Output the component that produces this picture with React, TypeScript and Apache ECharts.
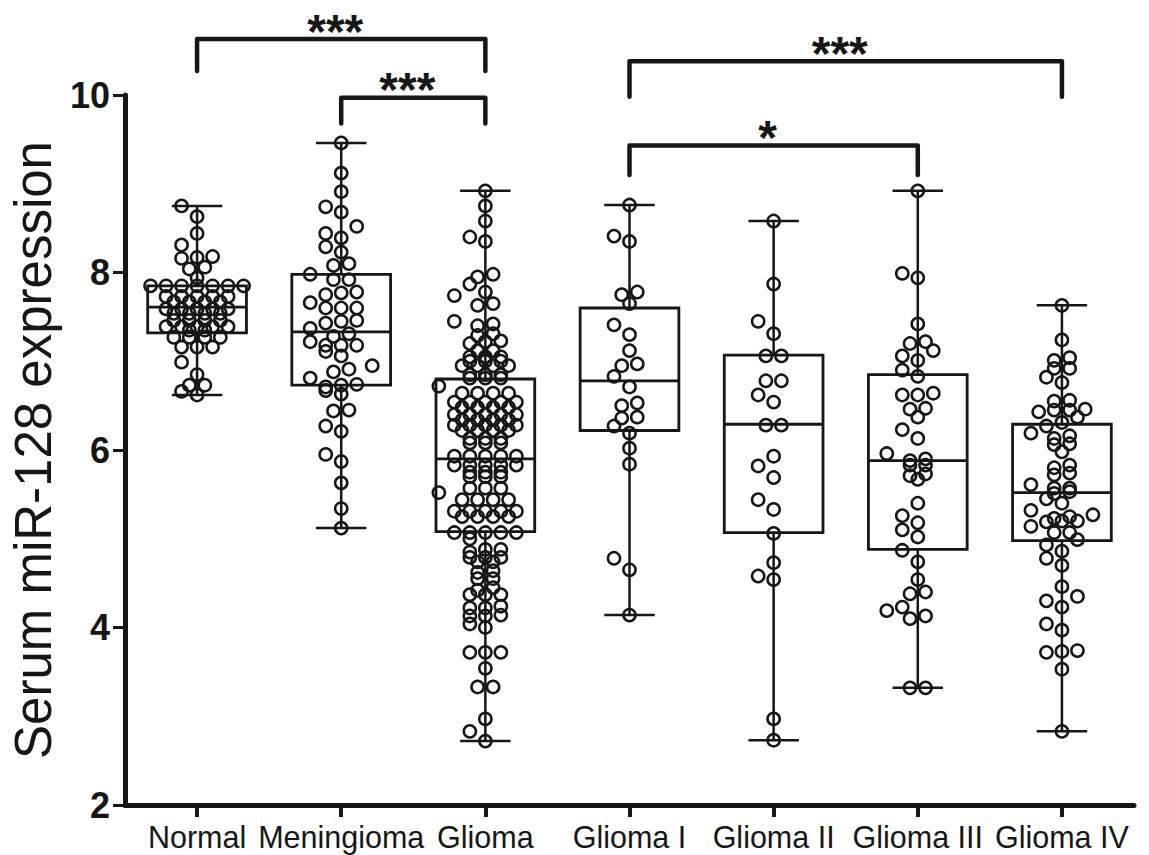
import React, { useEffect, useRef } from 'react';
import * as echarts from 'echarts';

const categories = ['Normal', 'Meningioma', 'Glioma', 'Glioma I', 'Glioma II', 'Glioma III', 'Glioma IV'];
const yAxisTitle = 'Serum miR-128 expression';

const normalValues = [
  8.75, 8.63, 8.44, 8.31, 8.18, 8.17, 8.16, 8.06, 8.04, 7.94,
  7.85, 7.85, 7.85, 7.85, 7.85, 7.85, 7.85,
  7.73, 7.73, 7.73, 7.73, 7.73,
  7.67, 7.67, 7.67, 7.67,
  7.59, 7.59, 7.59, 7.59, 7.59,
  7.54, 7.54, 7.54, 7.54,
  7.46, 7.46, 7.46, 7.46,
  7.39, 7.39, 7.39, 7.39, 7.39,
  7.35, 7.35,
  7.27, 7.27, 7.27, 7.27,
  7.16, 7.16, 7.16,
  6.99, 6.85, 6.73, 6.73, 6.66, 6.62,
];

const meningiomaValues = [
  9.46, 9.12, 8.91, 8.74, 8.68, 8.52, 8.44, 8.39, 8.29, 8.23, 8.1, 8.08, 7.98, 7.92, 7.92,
  7.78, 7.77, 7.75, 7.66, 7.6, 7.6, 7.6, 7.46, 7.45, 7.43, 7.37, 7.31, 7.28, 7.22,
  7.18, 7.18, 7.18, 7.11, 7.06, 6.95, 6.91, 6.88, 6.81, 6.74, 6.73, 6.71, 6.67, 6.63,
  6.45, 6.44, 6.27, 6.21, 5.95, 5.87, 5.63, 5.34, 5.12,
];

const gliomaValues = [
  8.92, 8.75, 8.58, 8.4, 8.35, 7.98, 7.95, 7.87, 7.78, 7.74, 7.65, 7.63, 7.45, 7.42, 7.4,
  7.31, 7.29, 7.23, 7.22, 7.2,
  7.12, 7.12,
  7.05, 7.05, 7.05,
  7.0, 7.0, 7.0,
  6.95, 6.95, 6.95, 6.95,
  6.85, 6.85, 6.85,
  6.81, 6.81, 6.81,
  6.72,
  6.64, 6.64, 6.64, 6.64,
  6.54, 6.54, 6.54, 6.54, 6.54,
  6.48, 6.48, 6.48, 6.48,
  6.4, 6.4, 6.4, 6.4, 6.4,
  6.34, 6.34, 6.34, 6.34,
  6.28, 6.28, 6.28, 6.28, 6.28,
  6.22, 6.22, 6.22, 6.22,
  6.13, 6.13, 6.13,
  6.08, 6.08, 6.08,
  5.93, 5.93, 5.93, 5.93, 5.93,
  5.83, 5.83, 5.83, 5.83, 5.83,
  5.75, 5.75, 5.75,
  5.7, 5.7, 5.7,
  5.57, 5.57, 5.57,
  5.52,
  5.44, 5.44, 5.44, 5.44,
  5.31, 5.31, 5.31, 5.31, 5.31,
  5.25, 5.25, 5.25, 5.25,
  5.07, 5.07, 5.07, 5.07, 5.07,
  5.0,
  4.88, 4.88, 4.85,
  4.79, 4.79, 4.79,
  4.74, 4.74,
  4.64, 4.62,
  4.55, 4.55,
  4.45, 4.42,
  4.37, 4.37, 4.37,
  4.24, 4.22, 4.22,
  4.14, 4.13, 4.13,
  4.04, 4.0,
  3.72, 3.72, 3.72,
  3.54,
  3.33, 3.33,
  2.97, 2.83, 2.72,
];

const gliomaIValues = [
  8.76, 8.41, 8.35, 7.78, 7.75, 7.65, 7.41, 7.3, 7.12, 6.97, 6.95, 6.83, 6.71, 6.53, 6.5,
  6.37, 6.36, 6.27, 6.19, 6.02, 5.84, 4.78, 4.65, 4.14,
];

const gliomaIIValues = [
  8.58, 7.87, 7.45, 7.31, 7.06, 7.06, 6.78, 6.78, 6.62, 6.54, 6.28, 6.28, 5.93, 5.82, 5.69,
  5.44, 5.33, 5.06, 4.73, 4.58, 4.54, 2.97, 2.73,
];

const gliomaIIIValues = [
  8.92, 7.99, 7.94, 7.42, 7.22, 7.2, 7.12, 7.06, 7.01, 6.9, 6.83, 6.64, 6.62, 6.62, 6.47,
  6.46, 6.37, 6.23, 6.13, 5.96, 5.9, 5.88, 5.83, 5.83, 5.73, 5.71, 5.67, 5.4, 5.26, 5.18,
  5.1, 5.02, 4.87, 4.74, 4.54, 4.4, 4.38, 4.23, 4.19, 4.13, 4.1, 3.32, 3.32,
];

const gliomaIVValues = [
  7.63, 7.24, 7.04, 7.01, 6.92, 6.92, 6.82, 6.76, 6.56, 6.55, 6.46, 6.45, 6.45, 6.43, 6.37,
  6.31, 6.27, 6.19, 6.16, 6.13, 6.07, 6.06, 5.98, 5.83, 5.8, 5.74, 5.72, 5.61, 5.57, 5.57,
  5.53, 5.51, 5.45, 5.4, 5.32, 5.27, 5.25, 5.23, 5.2, 5.2, 5.19, 5.14, 5.07, 5.07, 4.99,
  4.93, 4.86, 4.78, 4.7, 4.46, 4.35, 4.3, 4.23, 4.04, 3.97, 3.74, 3.73, 3.72, 3.53, 2.83,
];

const groupValues = [
  normalValues, meningiomaValues, gliomaValues, gliomaIValues,
  gliomaIIValues, gliomaIIIValues, gliomaIVValues,
];

// [min, Q1, median, Q3, max]
const boxMin = [6.62, 5.12, 2.72, 4.14, 2.73, 3.32, 2.83];
const boxQ1 = [7.32, 6.73, 5.08, 6.22, 5.07, 4.88, 4.98];
const boxMedian = [7.61, 7.33, 5.9, 6.78, 6.29, 5.88, 5.52];
const boxQ3 = [7.85, 7.98, 6.8, 7.6, 7.07, 6.85, 6.29];
const boxMax = [8.75, 9.46, 8.92, 8.76, 8.58, 8.92, 7.63];

const bracketFrom = [0, 1, 3, 3];
const bracketTo = [2, 2, 6, 5];
const bracketLevel = [10.63, 9.97, 10.38, 9.43];
const bracketDrop = [10.27, 9.68, 9.98, 9.1];
const bracketStars = ['***', '***', '***', '*'];

const INK = '#161616';
const FONT = '"Liberation Sans", Arial, Helvetica, sans-serif';
const GRID = { left: 124, top: 95, width: 1010, height: 710 };
const Y_MIN = 2;
const Y_MAX = 10;

// beeswarm-like layout (GraphPad style rows), offsets in pixels
function swarmOffsets(values: number[]): number[] {
  const pxPerUnit = GRID.height / (Y_MAX - Y_MIN);
  const COL = 15.5;
  const ROW_TOL = 3;
  const MIN_DIST = 12.5;
  const idx = values.map((_, i) => i).sort((a, b) => values[a] - values[b]);
  const off = new Array(values.length).fill(0);
  const placed: { x: number; y: number }[] = [];
  let i = 0;
  while (i < idx.length) {
    const start = values[idx[i]];
    const row: number[] = [];
    while (i < idx.length && (values[idx[i]] - start) * pxPerUnit <= ROW_TOL) {
      row.push(idx[i]);
      i++;
    }
    if (row.length === 1) {
      const y = values[row[0]] * pxPerUnit;
      const cands = [0, -COL, COL, -2 * COL, 2 * COL, -3 * COL, 3 * COL];
      let chosen = 0;
      for (const c of cands) {
        if (placed.every((p) => Math.hypot(p.x - c, p.y - y) >= MIN_DIST)) {
          chosen = c;
          break;
        }
      }
      off[row[0]] = chosen;
      placed.push({ x: chosen, y });
    } else {
      row.forEach((k, j) => {
        const x = (j - (row.length - 1) / 2) * COL;
        off[k] = x;
        placed.push({ x, y: values[k] * pxPerUnit });
      });
    }
  }
  return off;
}

export default function App() {
  const ref = useRef<HTMLDivElement>(null);

  useEffect(() => {
    if (!ref.current) return;
    const chart = echarts.init(ref.current, undefined, { renderer: 'svg' });

    const boxData = categories.map((_, i) => [i, boxMin[i], boxQ1[i], boxMedian[i], boxQ3[i], boxMax[i]]);
    const pointData: number[][] = [];
    groupValues.forEach((vals, gi) => {
      const offs = swarmOffsets(vals);
      vals.forEach((v, k) => pointData.push([gi, v, offs[k]]));
    });
    const bracketData = bracketFrom.map((f, i) => [f, bracketTo[i], bracketLevel[i], bracketDrop[i]]);

    const option: any = {
      animation: false,
      backgroundColor: '#ffffff',
      grid: { ...GRID, containLabel: false },
      xAxis: {
        type: 'category',
        data: categories,
        boundaryGap: true,
        axisLine: { show: true, lineStyle: { color: INK, width: 5 } },
        axisTick: { show: true, alignWithLabel: true, interval: 0, length: 12, lineStyle: { color: INK, width: 4 } },
        axisLabel: { color: INK, fontSize: 30.5, fontFamily: FONT, margin: 16, interval: 0, hideOverlap: false },
        splitLine: { show: false },
      },
      yAxis: {
        type: 'value',
        min: Y_MIN,
        max: Y_MAX,
        interval: 2,
        name: yAxisTitle,
        nameLocation: 'middle',
        nameGap: 66,
        nameRotate: 90,
        nameTextStyle: { color: INK, fontSize: 51, fontFamily: FONT },
        axisLine: { show: true, lineStyle: { color: INK, width: 5 } },
        axisTick: { show: true, length: 12, lineStyle: { color: INK, width: 3 } },
        axisLabel: { color: INK, fontSize: 36, fontWeight: 'bold', fontFamily: FONT, margin: 15 },
        splitLine: { show: false },
      },
      series: [
        {
          type: 'custom',
          name: 'box',
          data: boxData,
          encode: { x: 0, y: [1, 2, 3, 4, 5] },
          clip: false,
          renderItem: (params: any, api: any) => {
            const x = api.value(0);
            const pMin = api.coord([x, api.value(1)]);
            const pQ1 = api.coord([x, api.value(2)]);
            const pMed = api.coord([x, api.value(3)]);
            const pQ3 = api.coord([x, api.value(4)]);
            const pMax = api.coord([x, api.value(5)]);
            const band = api.size([1, 0])[0];
            const bw = band * 0.685;
            const cw = band * 0.35;
            const cx = pMed[0];
            const boxStyle = { stroke: INK, lineWidth: 2.8, fill: null };
            const wStyle = { stroke: INK, lineWidth: 2.5, fill: null };
            return {
              type: 'group',
              children: [
                { type: 'line', shape: { x1: cx, y1: pQ3[1], x2: cx, y2: pMax[1] }, style: wStyle },
                { type: 'line', shape: { x1: cx, y1: pQ1[1], x2: cx, y2: pMin[1] }, style: wStyle },
                { type: 'line', shape: { x1: cx - cw / 2, y1: pMax[1], x2: cx + cw / 2, y2: pMax[1] }, style: wStyle },
                { type: 'line', shape: { x1: cx - cw / 2, y1: pMin[1], x2: cx + cw / 2, y2: pMin[1] }, style: wStyle },
                { type: 'rect', shape: { x: cx - bw / 2, y: pQ3[1], width: bw, height: pQ1[1] - pQ3[1] }, style: boxStyle },
                { type: 'line', shape: { x1: cx - bw / 2, y1: pMed[1], x2: cx + bw / 2, y2: pMed[1] }, style: boxStyle },
              ],
            };
          },
        },
        {
          type: 'custom',
          name: 'points',
          data: pointData,
          encode: { x: 0, y: 1 },
          clip: false,
          renderItem: (params: any, api: any) => {
            const p = api.coord([api.value(0), api.value(1)]);
            return {
              type: 'circle',
              shape: { cx: p[0] + api.value(2), cy: p[1], r: 6.1 },
              style: { fill: null, stroke: INK, lineWidth: 2.5 },
            };
          },
        },
        {
          type: 'custom',
          name: 'brackets',
          data: bracketData,
          encode: { x: [0, 1], y: [2, 3] },
          clip: false,
          renderItem: (params: any, api: any) => {
            const x0 = api.value(0);
            const x1 = api.value(1);
            const yl = api.value(2);
            const yd = api.value(3);
            const a = api.coord([x0, yd]);
            const b = api.coord([x0, yl]);
            const c = api.coord([x1, yl]);
            const d = api.coord([x1, yd]);
            return {
              type: 'group',
              children: [
                {
                  type: 'polyline',
                  shape: { points: [a, b, c, d] },
                  style: { stroke: INK, lineWidth: 4.5, fill: null, lineCap: 'round', lineJoin: 'round' },
                },
                {
                  type: 'text',
                  x: (b[0] + c[0]) / 2 - 6,
                  y: b[1] - 8,
                  style: {
                    text: bracketStars[params.dataIndex],
                    fontSize: 48,
                    fontWeight: 'bold',
                    fontFamily: FONT,
                    fill: INK,
                    align: 'center',
                    verticalAlign: 'middle',
                  },
                },
              ],
            };
          },
        },
      ],
    };

    chart.setOption(option);
    return () => chart.dispose();
  }, []);

  return (
    <div
      ref={ref}
      style={{ position: 'fixed', left: 0, top: 0, width: 1149, height: 855, background: '#ffffff' }}
    />
  );
}
